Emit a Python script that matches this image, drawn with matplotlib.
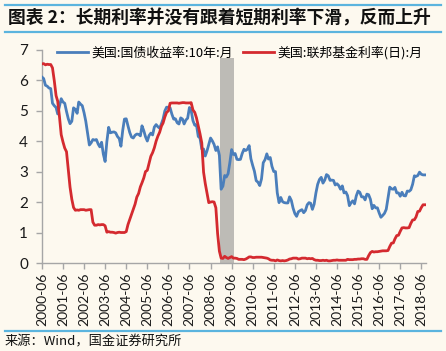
import numpy as np
import pandas as pd
import matplotlib
matplotlib.use('Agg')
import matplotlib.pyplot as plt
import matplotlib.dates as mdates
from matplotlib.lines import Line2D

plt.rcParams['font.family'] = ['Noto Sans CJK SC', 'DejaVu Sans']

# monthly data, 2000-06 .. 2018-08
start = '2000-06-01'
ust10y = [
    6.10, 6.05, 5.83, 5.80, 5.74, 5.72, 5.24,
    5.16, 5.10, 4.89, 5.14, 5.39, 5.28, 5.24, 4.97, 4.73, 4.57, 4.65, 5.09,
    5.04, 4.91, 5.28, 5.21, 5.16, 4.93, 4.65, 4.26, 3.87, 3.94, 4.05, 4.03,
    4.05, 3.90, 3.81, 3.96, 3.57, 3.33, 3.98, 4.45, 4.27, 4.29, 4.30, 4.27,
    4.15, 4.08, 3.83, 4.35, 4.72, 4.73, 4.50, 4.28, 4.13, 4.10, 4.19, 4.23,
    4.22, 4.17, 4.50, 4.34, 4.14, 4.00, 4.18, 4.26, 4.20, 4.46, 4.54, 4.47,
    4.42, 4.57, 4.72, 4.99, 5.11, 5.11, 5.09, 4.88, 4.72, 4.73, 4.60, 4.56,
    4.76, 4.72, 4.56, 4.69, 4.75, 5.10, 5.00, 4.67, 4.52, 4.53, 4.15, 4.10,
    3.74, 3.74, 3.51, 3.68, 3.88, 4.10, 4.01, 3.89, 3.69, 3.81, 3.53, 2.42,
    2.52, 2.87, 2.82, 2.93, 3.29, 3.72, 3.56, 3.59, 3.40, 3.39, 3.40, 3.59,
    3.73, 3.69, 3.73, 3.85, 3.42, 3.20, 3.01, 2.70, 2.65, 2.54, 2.76, 3.29,
    3.39, 3.58, 3.41, 3.46, 3.17, 3.00, 3.00, 2.30, 1.98, 2.15, 2.01, 1.98,
    1.97, 1.97, 2.17, 2.05, 1.80, 1.62, 1.53, 1.68, 1.72, 1.75, 1.65, 1.72,
    1.91, 1.98, 1.96, 1.76, 1.93, 2.30, 2.58, 2.74, 2.81, 2.62, 2.72, 2.90,
    2.86, 2.71, 2.72, 2.71, 2.56, 2.60, 2.54, 2.42, 2.53, 2.30, 2.33, 2.21,
    1.88, 1.98, 2.04, 1.94, 2.20, 2.36, 2.32, 2.17, 2.17, 2.07, 2.26, 2.24,
    2.09, 1.78, 1.89, 1.81, 1.81, 1.64, 1.50, 1.56, 1.63, 1.76, 2.14, 2.49,
    2.43, 2.42, 2.48, 2.30, 2.30, 2.19, 2.32, 2.21, 2.20, 2.36, 2.35, 2.40,
    2.58, 2.86, 2.84, 2.87, 2.98, 2.91, 2.89, 2.89,
]
fedfunds = [
    6.53, 6.54, 6.50, 6.52, 6.51, 6.51, 6.40,
    5.98, 5.49, 5.31, 4.80, 4.21, 3.97, 3.77, 3.65, 3.07, 2.49, 2.09, 1.82,
    1.73, 1.74, 1.73, 1.75, 1.75, 1.75, 1.73, 1.74, 1.75, 1.75, 1.34, 1.24,
    1.24, 1.26, 1.25, 1.26, 1.26, 1.22, 1.01, 1.03, 1.01, 1.01, 1.00, 0.98,
    1.00, 1.01, 1.00, 1.00, 1.00, 1.03, 1.26, 1.43, 1.61, 1.76, 1.93, 2.16,
    2.28, 2.50, 2.63, 2.79, 3.00, 3.04, 3.26, 3.50, 3.62, 3.78, 4.00, 4.16,
    4.29, 4.49, 4.59, 4.79, 4.94, 4.99, 5.24, 5.25, 5.25, 5.25, 5.25, 5.24,
    5.25, 5.26, 5.26, 5.25, 5.25, 5.25, 5.26, 5.02, 4.94, 4.76, 4.49, 4.24,
    3.94, 2.98, 2.61, 2.28, 1.98, 2.00, 2.01, 2.00, 1.81, 0.97, 0.39, 0.16,
    0.15, 0.22, 0.18, 0.15, 0.18, 0.21, 0.16, 0.16, 0.15, 0.12, 0.12, 0.12,
    0.11, 0.13, 0.16, 0.20, 0.20, 0.18, 0.18, 0.19, 0.19, 0.19, 0.19, 0.18,
    0.17, 0.16, 0.14, 0.10, 0.09, 0.09, 0.07, 0.10, 0.08, 0.07, 0.08, 0.07,
    0.08, 0.10, 0.13, 0.14, 0.16, 0.16, 0.16, 0.13, 0.14, 0.16, 0.16, 0.16,
    0.14, 0.15, 0.14, 0.15, 0.11, 0.09, 0.09, 0.08, 0.08, 0.09, 0.08, 0.09,
    0.07, 0.07, 0.08, 0.09, 0.09, 0.10, 0.09, 0.09, 0.09, 0.09, 0.09, 0.12,
    0.11, 0.11, 0.11, 0.12, 0.12, 0.13, 0.13, 0.14, 0.14, 0.12, 0.12, 0.24,
    0.34, 0.38, 0.36, 0.37, 0.37, 0.38, 0.39, 0.40, 0.40, 0.40, 0.41, 0.54,
    0.65, 0.66, 0.79, 0.90, 0.91, 1.04, 1.15, 1.16, 1.15, 1.15, 1.16, 1.30,
    1.41, 1.42, 1.51, 1.69, 1.70, 1.82, 1.91, 1.91,
]
labels = ['美国:国债收益率:10年:月', '美国:联邦基金利率(日):月']
shade_start, shade_end, shade_top = '2008-11-15', '2009-07-20', 6.72

dates = pd.date_range(start, periods=len(ust10y), freq='MS')
bg = '#FDF9EF'
blue = '#4A7EBB'
red = '#D42A2F'
rule = '#5BB4DE'

fig = plt.figure(figsize=(4.46, 3.51), dpi=100, facecolor=bg)
ax = fig.add_axes([0.094, 0.2507, 0.861, 0.608], facecolor=bg)

ax.fill_between([pd.Timestamp(shade_start), pd.Timestamp(shade_end)], 0, shade_top,
                color='#BDBBB6', lw=0, zorder=1)
ax.plot(dates, ust10y, color=blue, lw=2.0, label=labels[0], zorder=3)
ax.plot(dates, fedfunds, color=red, lw=2.0, label=labels[1], zorder=3)

ax.set_ylim(0, 7)
ax.set_yticks(range(0, 8))
ax.set_xlim(pd.Timestamp('2000-06-01'), pd.Timestamp('2018-08-20'))
ax.set_xticks(pd.date_range('2000-06-01', '2018-06-01', freq='12MS'))
ax.xaxis.set_major_formatter(mdates.DateFormatter('%Y-%m'))
for s in ['top', 'right']:
    ax.spines[s].set_visible(False)
for s in ['left', 'bottom']:
    ax.spines[s].set_color('#A6A6A6')
    ax.spines[s].set_linewidth(1.0)
ax.tick_params(axis='both', colors='#A6A6A6', length=4, width=1.0, labelcolor='#1A1A1A')
ax.tick_params(axis='x', labelrotation=90, labelsize=10, pad=3)
ax.tick_params(axis='y', labelsize=11, pad=6)
for t in ax.get_xticklabels() + ax.get_yticklabels():
    t.set_fontfamily(['Lato', 'DejaVu Sans'])

fig.legend(loc='center left', bbox_to_anchor=(57 / 446, 1 - 53 / 351), ncol=2,
           frameon=False, fontsize=9.3, handlelength=2.4, handletextpad=0.25,
           columnspacing=0.8, borderpad=0, borderaxespad=0)

# title, rules, source
fig.add_artist(Line2D([5 / 446, 441 / 446], [1 - 5 / 351] * 2, color=rule, lw=1.6))
fig.add_artist(Line2D([5 / 446, 441 / 446], [1 - 32 / 351] * 2, color=rule, lw=1.6))
fig.text(8 / 446, 1 - 18.5 / 351, '图表 2：长期利率并没有跟着短期利率下滑，反而上升',
         fontsize=12.8, fontweight='bold', va='center', ha='left', color='#111111')
fig.add_artist(Line2D([5 / 446, 441 / 446], [1 - 331 / 351] * 2, color=rule, lw=1.6))
fig.text(5 / 446, 1 - 342 / 351, '来源：Wind，国金证券研究所', fontsize=9.5,
         va='center', ha='left', color='#111111')

fig.savefig('out.png', dpi=100, facecolor=bg)
